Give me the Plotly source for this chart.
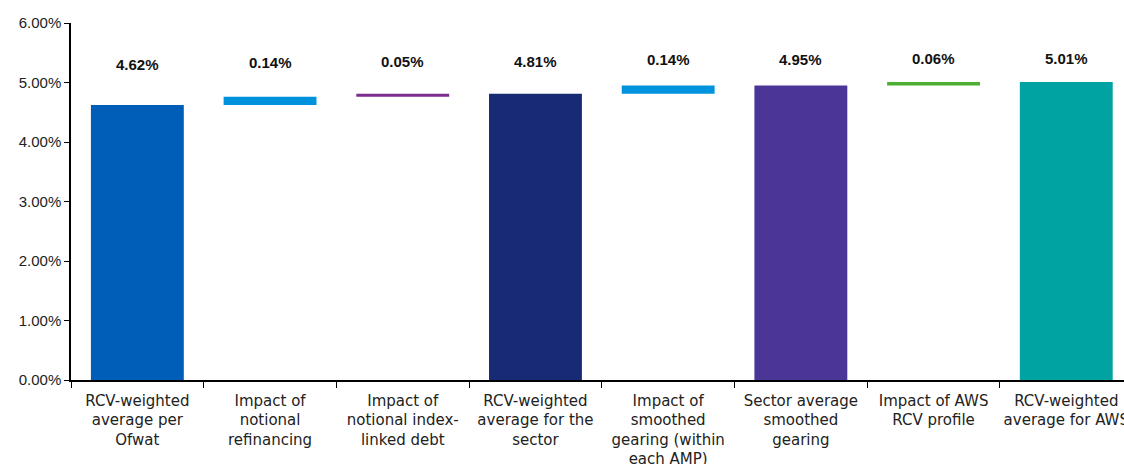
import plotly.graph_objects as go

categories = [
    "RCV-weighted<br>average per<br>Ofwat",
    "Impact of<br>notional<br>refinancing",
    "Impact of<br>notional index-<br>linked debt",
    "RCV-weighted<br>average for the<br>sector",
    "Impact of<br>smoothed<br>gearing (within<br>each AMP)",
    "Sector average<br>smoothed<br>gearing",
    "Impact of AWS<br>RCV profile",
    "RCV-weighted<br>average for AWS",
]
values = [4.62, 0.14, 0.05, 4.81, 0.14, 4.95, 0.06, 5.01]
is_total = [True, False, False, True, False, True, False, True]
colors = ["#005EB8", "#0093DD", "#7B2C8C", "#172A73", "#0093DD", "#4B3596", "#4CAF32", "#00A3A1"]
y_ticks = [0, 1, 2, 3, 4, 5, 6]
y_tick_labels = ["%.2f%%" % t for t in y_ticks]

bases = []
running = 0.0
for v, t in zip(values, is_total):
    if t:
        bases.append(0.0)
        running = v
    else:
        bases.append(running)
        running = running + v
tops = [b + v for b, v in zip(bases, values)]

fig = go.Figure()
fig.add_trace(go.Bar(
    x=categories, y=values, base=bases,
    marker=dict(color=colors, line=dict(width=0)),
    width=0.7, hoverinfo="skip",
))

for c, v, top in zip(categories, values, tops):
    fig.add_annotation(
        x=c, y=5.30 + 0.26 * (top - values[0]),
        text="<b>%.2f%%</b>" % v, showarrow=False,
        font=dict(family="Liberation Sans, Arial", size=15, color="#111111"),
        yanchor="middle",
    )

fig.update_layout(
    width=1124, height=464,
    margin=dict(l=71, r=0, t=23, b=84),
    paper_bgcolor="white", plot_bgcolor="white",
    showlegend=False, template="none",
    font=dict(family="Liberation Sans, Arial", size=15, color="#222222"),
    bargap=0.3,
)
fig.update_xaxes(
    type="category", range=[-0.5, 7.435], automargin=False,
    showline=True, linecolor="black", linewidth=1.5,
    ticks="outside", tickson="boundaries", ticklen=6, tickcolor="black",
    ticklabelstandoff=6,
    showgrid=False, zeroline=False,
    tickfont=dict(family="DejaVu Sans", size=15, color="#222222"),
)
fig.update_yaxes(
    range=[0, 6], tickmode="array", tickvals=y_ticks, ticktext=y_tick_labels,
    automargin=False,
    showline=True, linecolor="black", linewidth=1.5,
    ticks="outside", ticklen=5, tickcolor="black",
    showgrid=False, zeroline=False,
    tickfont=dict(family="Liberation Sans, Arial", size=15, color="#222222"),
)

fig.write_html("out.html")
